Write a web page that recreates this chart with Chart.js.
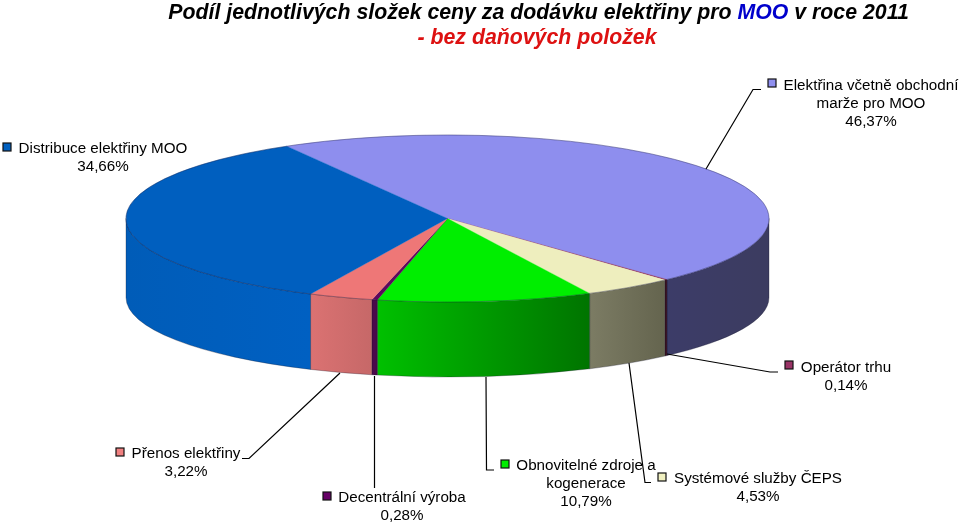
<!DOCTYPE html>
<html>
<head>
<meta charset="utf-8">
<style>
  html, body { margin: 0; padding: 0; background: #fff; }
  canvas { display: block; }
</style>
<script src="https://cdn.jsdelivr.net/npm/chart.js@4"></script>
</head>
<body>
<canvas id="pie" width="960" height="523"></canvas>
<script>
// slices, clockwise from the top left edge of the purple one
const categories = ['Elektřina včetně obchodní marže pro MOO', 'Operátor trhu', 'Systémové služby ČEPS',
    'Obnovitelné zdroje a kogenerace', 'Decentrální výroba', 'Přenos elektřiny', 'Distribuce elektřiny MOO'];
const shares = [46.37, 0.14, 4.53, 10.79, 0.28, 3.22, 34.66];

const topColors = ['#8E8EEE', '#8A2B5A', '#EEEEBE', '#00EE00', '#5C0A5C', '#EE7777', '#005FBF'];
const wallFrom = ['#3C3C68', '#3A1020', '#7C7C64', '#00C000', '#4A084A', '#DB7272', '#005CB8'];
const wallTo = ['#3C3C60', '#3A1020', '#64644E', '#007400', '#4A084A', '#C66868', '#0060C2'];
const keyColors = ['#9090F0', '#993366', '#F0F0C0', '#00EE00', '#660066', '#F08080', '#0060C0'];

const titleParts = [['Podíl jednotlivých složek ceny za dodávku elektřiny pro ', '#000'], ['MOO', '#0000CC'], [' v roce 2011', '#000']];
const subtitle = '- bez daňových položek';

// how the flat pie is laid over to look 3d
const TILT = 83.5 / 321.5;
const WALL_DROP = 79;
const WALL_TILT = 79.5 / 321.5;

const FONT = '15.2px "Liberation Sans", Arial, sans-serif';

// label blocks: lines above the percentage, line centre x, first line y, key position
const labelBoxes = [
    { lines: ['Elektřina včetně obchodní', 'marže pro MOO'], x: 871, y: 86, keyX: 768, keyY: 79 },
    { lines: ['Operátor trhu'], x: 846, y: 368, keyX: 785, keyY: 361 },
    { lines: ['Systémové služby ČEPS'], x: 758, y: 479, keyX: 658, keyY: 473 },
    { lines: ['Obnovitelné zdroje a', 'kogenerace'], x: 586, y: 466, keyX: 501, keyY: 460 },
    { lines: ['Decentrální výroba'], x: 402, y: 498, keyX: 323, keyY: 492 },
    { lines: ['Přenos elektřiny'], x: 186, y: 454, keyX: 116, keyY: 448 },
    { lines: ['Distribuce elektřiny MOO'], x: 103, y: 149, keyX: 3, keyY: 143 }
];

const leaders = [
    [[706, 169], [753, 89.5], [761, 89.5]],
    [[667, 354], [770, 372], [778, 372]],
    [[629, 363], [645, 482.5], [651, 482.5]],
    [[486, 377], [486.5, 470], [494, 470]],
    [[374.5, 376], [374.5, 488]],
    [[340, 373], [249, 458.5], [242, 458.5]]
];

const fakePie3d = {
    id: 'fakePie3d',
    beforeDatasetsDraw(chart) {
        const ctx = chart.ctx;
        const arcs = chart.getDatasetMeta(0).data;
        const cx = arcs[0].x, cy = arcs[0].y, r = arcs[0].outerRadius;

        // side walls, only the part of each slice facing us
        arcs.forEach((arc, i) => {
            const a0 = Math.max(arc.startAngle, 0);
            const a1 = Math.min(arc.endAngle, Math.PI);
            if (a1 <= a0) return;
            const x0 = cx + r * Math.cos(a1), x1 = cx + r * Math.cos(a0);
            const grad = ctx.createLinearGradient(x0, 0, x1, 0);
            grad.addColorStop(0, wallFrom[i]);
            grad.addColorStop(1, wallTo[i]);
            ctx.beginPath();
            ctx.ellipse(cx, cy, r, r * TILT, 0, a0, a1);
            ctx.ellipse(cx, cy + WALL_DROP, r, r * WALL_TILT, 0, a1, a0, true);
            ctx.closePath();
            ctx.fillStyle = grad;
            ctx.fill();
            ctx.strokeStyle = 'rgba(20,20,40,0.6)';
            ctx.lineWidth = 0.5;
            ctx.stroke();
        });

        ctx.save();
        ctx.translate(cx, cy);
        ctx.scale(1, TILT);
        ctx.translate(-cx, -cy);
    },
    afterDatasetsDraw(chart) {
        const ctx = chart.ctx;
        ctx.restore();

        const arcs = chart.getDatasetMeta(0).data;
        const cx = arcs[0].x, cy = arcs[0].y, r = arcs[0].outerRadius;

        ctx.strokeStyle = 'rgba(20,20,60,0.6)';
        ctx.lineWidth = 0.6;
        ctx.beginPath();
        ctx.ellipse(cx, cy, r, r * TILT, 0, 0, Math.PI * 2);
        ctx.stroke();

        ctx.strokeStyle = '#000';
        ctx.lineWidth = 1.2;
        leaders.forEach(pts => {
            ctx.beginPath();
            pts.forEach((p, i) => i ? ctx.lineTo(p[0], p[1]) : ctx.moveTo(p[0], p[1]));
            ctx.stroke();
        });

        drawTitle(ctx);
        labelBoxes.forEach((box, i) => drawLabel(ctx, box, i));
    }
};

function drawTitle(ctx) {
    ctx.font = 'italic bold 21.3px "Liberation Sans", Arial, sans-serif';
    ctx.textBaseline = 'middle';
    ctx.textAlign = 'left';
    const total = titleParts.reduce((w, p) => w + ctx.measureText(p[0]).width, 0);
    let x = 538.5 - total / 2;
    titleParts.forEach(p => {
        ctx.fillStyle = p[1];
        ctx.fillText(p[0], x, 13);
        x += ctx.measureText(p[0]).width;
    });
    ctx.textAlign = 'center';
    ctx.fillStyle = '#DD1111';
    ctx.fillText(subtitle, 537, 38);
}

function drawLabel(ctx, box, i) {
    ctx.fillStyle = keyColors[i];
    ctx.strokeStyle = '#111';
    ctx.lineWidth = 1.2;
    ctx.fillRect(box.keyX, box.keyY, 8, 8);
    ctx.strokeRect(box.keyX, box.keyY, 8, 8);

    ctx.font = FONT;
    ctx.fillStyle = '#000';
    ctx.textAlign = 'center';
    ctx.textBaseline = 'middle';
    const pct = shares[i].toFixed(2).replace('.', ',') + '%';
    box.lines.concat(pct).forEach((line, n) => ctx.fillText(line, box.x, box.y + n * 18));
}

new Chart(document.getElementById('pie'), {
    type: 'pie',
    data: {
        labels: categories,
        datasets: [{
            data: shares,
            backgroundColor: topColors,
            borderColor: topColors,
            borderWidth: 0.5,
            clip: false
        }]
    },
    options: {
        responsive: false,
        animation: false,
        devicePixelRatio: 1,
        rotation: -30,
        radius: 321.5,
        layout: { padding: { right: 65, bottom: 86 } },
        plugins: { legend: { display: false }, tooltip: { enabled: false } }
    },
    plugins: [fakePie3d]
});
</script>
</body>
</html>
